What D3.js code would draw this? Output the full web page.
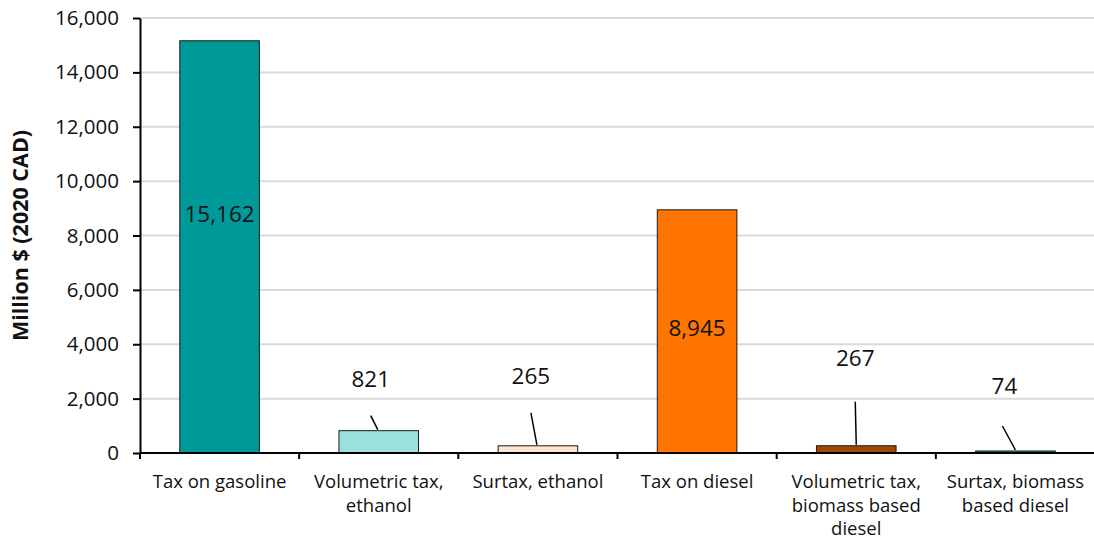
<!DOCTYPE html>
<html>
<head>
<meta charset="utf-8">
<script src="https://cdn.jsdelivr.net/npm/d3@7"></script>
<style>
  html, body { margin: 0; padding: 0; background: #fff; }
  svg { display: block; font-family: "Open Sans", "Lato", sans-serif; }
</style>
</head>
<body>
<svg id="chart" width="1094" height="541"></svg>
<script>
// Fuel excise revenue by tax component
const categories = [
  ["Tax on gasoline"],
  ["Volumetric tax,", "ethanol"],
  ["Surtax, ethanol"],
  ["Tax on diesel"],
  ["Volumetric tax,", "biomass based", "diesel"],
  ["Surtax, biomass", "based diesel"]
];
const values = [15162, 821, 265, 8945, 267, 74];
const barColors = ["#009999", "#9de1df", "#fde6d3", "#ff7500", "#a04a00", "#009999"];
const yTicks = [0, 2000, 4000, 6000, 8000, 10000, 12000, 14000, 16000];
const yTitle = "Million $ (2020 CAD)";

// Label placement per bar: inside the bar (offset from its middle), or above it
// with a leader line (offsets from the bar's top centre)
const labelPlacement = [
  { inside: true, dy: -33 },
  { inside: false, label: [-8, -52], lead: [[-8, -15], [-1, -1]] },
  { inside: false, label: [-7, -70], lead: [[-7, -33], [-1, -1]] },
  { inside: true, dy: -4 },
  { inside: false, label: [-1, -88], lead: [[-1, -44], [0, -1]] },
  { inside: false, label: [-11, -65], lead: [[-13, -25], [0, -1]] }
];

const svg = d3.select("#chart");
const frame = { left: 140, right: 1095, top: 18, bottom: 453 };

const x = d3.scaleBand()
  .domain(d3.range(categories.length))
  .range([frame.left, frame.right])
  .paddingInner(0.5)
  .paddingOuter(0.25);

const y = d3.scaleLinear().domain([0, 16000]).range([frame.bottom, frame.top]);

// Gridlines
svg.append("g")
  .selectAll("line")
  .data(yTicks.filter(d => d > 0))
  .join("line")
  .attr("x1", frame.left).attr("x2", frame.right)
  .attr("y1", d => y(d)).attr("y2", d => y(d))
  .attr("stroke", "#d9d9d9").attr("stroke-width", 2);

// Bars
svg.append("g")
  .selectAll("rect")
  .data(values)
  .join("rect")
  .attr("x", (d, i) => x(i))
  .attr("width", x.bandwidth())
  .attr("y", d => y(d))
  .attr("height", d => y(0) - y(d))
  .attr("fill", (d, i) => barColors[i])
  .attr("stroke", "#1a1a1a").attr("stroke-width", 1);

// Y axis
const yAxis = d3.axisLeft(y)
  .tickValues(yTicks)
  .tickFormat(d3.format(","))
  .tickSizeInner(7).tickSizeOuter(0).tickPadding(14);
const gy = svg.append("g").attr("transform", `translate(${frame.left},0)`).call(yAxis);
gy.select(".domain").attr("stroke", "#000").attr("stroke-width", 2);
gy.selectAll(".tick line").attr("stroke", "#000").attr("stroke-width", 2);
gy.selectAll(".tick text").attr("font-size", 20.5).attr("fill", "#111")
  .attr("font-family", "'Open Sans', sans-serif");

// X axis baseline and band dividers
const step = x.step();
const bounds = d3.range(categories.length).map(i => frame.left + i * step);
svg.append("line")
  .attr("x1", frame.left).attr("x2", frame.right)
  .attr("y1", y(0)).attr("y2", y(0))
  .attr("stroke", "#000").attr("stroke-width", 2);
svg.append("g")
  .selectAll("line")
  .data(bounds)
  .join("line")
  .attr("x1", d => d).attr("x2", d => d)
  .attr("y1", y(0)).attr("y2", y(0) + 6)
  .attr("stroke", "#000").attr("stroke-width", 2);

// Category labels
const catG = svg.append("g")
  .selectAll("text")
  .data(categories)
  .join("text")
  .attr("x", (d, i) => x(i) + x.bandwidth() / 2)
  .attr("y", 488)
  .attr("text-anchor", "middle")
  .attr("font-size", 18.5)
  .attr("fill", "#111");
catG.selectAll("tspan")
  .data(d => d)
  .join("tspan")
  .attr("x", function () { return this.parentNode.getAttribute("x"); })
  .attr("dy", (d, i) => i === 0 ? 0 : 23.5)
  .text(d => d);

// Y title
svg.append("text")
  .attr("transform", `translate(28,${(frame.top + frame.bottom) / 2}) rotate(-90)`)
  .attr("text-anchor", "middle")
  .attr("font-size", 21.5)
  .attr("font-weight", "bold")
  .attr("fill", "#111")
  .text(yTitle);

// Value labels
const fmt = d3.format(",");
values.forEach((v, i) => {
  const cx = x(i) + x.bandwidth() / 2;
  const top = y(v);
  const p = labelPlacement[i];
  if (p.inside) {
    svg.append("text")
      .attr("x", cx).attr("y", (top + y(0)) / 2 + (p.dy || 0))
      .attr("text-anchor", "middle").attr("dominant-baseline", "central")
      .attr("font-size", 22.5).attr("fill", "#111")
      .text(fmt(v));
  } else {
    svg.append("line")
      .attr("x1", cx + p.lead[0][0]).attr("y1", top + p.lead[0][1])
      .attr("x2", cx + p.lead[1][0]).attr("y2", top + p.lead[1][1])
      .attr("stroke", "#000").attr("stroke-width", 1.5);
    svg.append("text")
      .attr("x", cx + p.label[0]).attr("y", top + p.label[1])
      .attr("text-anchor", "middle").attr("dominant-baseline", "central")
      .attr("font-size", 22.5).attr("fill", "#111")
      .text(fmt(v));
  }
});
</script>
</body>
</html>
